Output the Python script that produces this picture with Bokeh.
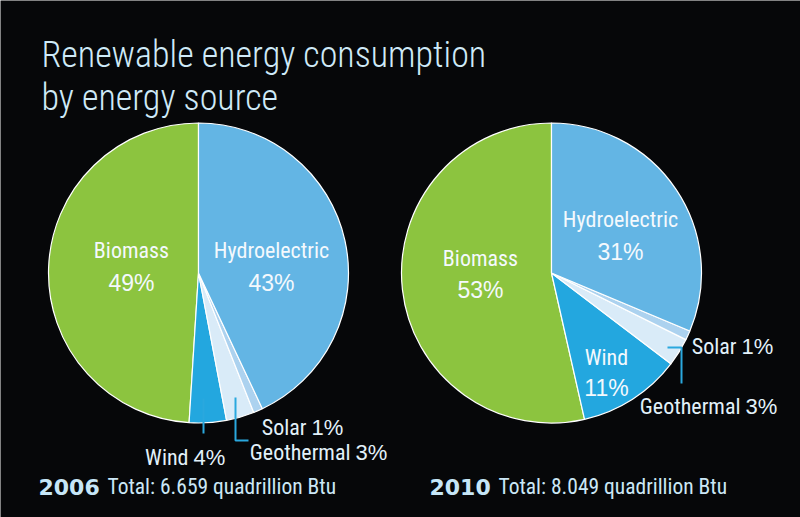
import numpy as np
from bokeh.plotting import figure
from bokeh.models import Range1d, ColumnDataSource
from bokeh.core.properties import value
from bokeh.embed import file_html
from bokeh.resources import INLINE

# ---------------- data ----------------
categories = ["Biomass", "Wind", "Geothermal", "Solar", "Hydroelectric"]
share_2006 = [49, 4, 3, 1, 43]
share_2010 = [53, 11, 3, 1, 31]
years = ["2006", "2010"]
totals = [6.659, 8.049]
title_lines = ["Renewable energy consumption", "by energy source"]

# ---------------- styles ----------------
BG = "#060709"
colors = {"Biomass": "#8cc43f", "Wind": "#23a7df", "Geothermal": "#d9ebf8",
          "Solar": "#acd2ef", "Hydroelectric": "#63b5e4"}
COND = "Roboto Condensed"
TITLE_FONT = "Roboto Condensed Light"
REG = "Liberation Sans"
TXT = "#f4f9fd"
TXT2 = "#e2f1fa"
TITLE_C = "#cfeaf8"
LEADER = "#2aa8de"

W, H = 800, 517
p = figure(width=W, height=H, x_range=Range1d(0, W), y_range=Range1d(0, H),
           output_backend="svg", toolbar_location=None, min_border=0,
           x_axis_location=None, y_axis_location=None)
p.grid.visible = False
p.outline_line_color = None
p.background_fill_color = BG
p.border_fill_color = BG


def Y(ypix):
    return H - ypix


# ---------------- pies ----------------
centers = [(198, 272.5), (551, 272.5)]
R = 150
for shares, (cx, cy) in zip([share_2006, share_2010], centers):
    v = np.array(shares, dtype=float)
    frac = v / v.sum()
    ends = np.cumsum(frac)
    starts = ends - frac
    src = ColumnDataSource(dict(
        cat=categories,
        start=np.pi / 2 + 2 * np.pi * starts,
        end=np.pi / 2 + 2 * np.pi * ends,
        color=[colors[c] for c in categories],
    ))
    p.wedge(x=cx, y=Y(cy), radius=R, start_angle="start", end_angle="end",
            direction="anticlock", fill_color="color", line_color="white",
            line_width=1.2, source=src)

# ---------------- labels ----------------
stacked = [
    (0, "Biomass", 131, 250, 282),
    (0, "Hydroelectric", 271, 250, 282),
    (1, "Biomass", 480, 258, 289),
    (1, "Hydroelectric", 620, 219, 251),
    (1, "Wind", 606, 357, 387),
]
inline = [
    (0, "Wind", 193, 457),
    (0, "Solar", 311, 427),
    (0, "Geothermal", 355, 452),
    (1, "Solar", 741, 346),
    (1, "Geothermal", 745, 406),
]
share_sets = [share_2006, share_2010]

p.text(x=[s[2] for s in stacked], y=[Y(s[3]) for s in stacked],
       text=[s[1] for s in stacked], text_font=value(COND), text_font_size="22px",
       text_color=TXT, text_align="center", text_baseline="alphabetic")
p.text(x=[s[2] for s in stacked], y=[Y(s[4]) for s in stacked],
       text=[f"{share_sets[s[0]][categories.index(s[1])]}%" for s in stacked],
       text_font=value(REG), text_font_size="23px",
       text_color=TXT, text_align="center", text_baseline="alphabetic")

p.text(x=[s[2] - 5 for s in inline], y=[Y(s[3]) for s in inline],
       text=[s[1] for s in inline], text_font=value(COND), text_font_size="22px",
       text_color=TXT2, text_align="right", text_baseline="alphabetic")
p.text(x=[s[2] for s in inline], y=[Y(s[3]) for s in inline],
       text=[f"{share_sets[s[0]][categories.index(s[1])]}%" for s in inline],
       text_font=value(REG), text_font_size="22px",
       text_color=TXT2, text_align="left", text_baseline="alphabetic")

leaders = [
    ([203, 203], [398, 433]),
    ([235, 235, 248], [397, 440, 440]),
    ([667, 681, 681], [347, 347, 383]),
]
p.multi_line(xs=[l[0] for l in leaders], ys=[[Y(y) for y in l[1]] for l in leaders],
             line_color=LEADER, line_width=2)

# ---------------- title ----------------
p.text(x=[41, 41], y=[Y(54), Y(97)], text=title_lines, text_font=value(TITLE_FONT),
       text_font_size="36px", text_color=TITLE_C, text_align="left",
       text_baseline="alphabetic")

# ---------------- footers ----------------
year_x = [38, 429]
p.text(x=year_x, y=[Y(486)] * 2, text=years, text_font=value("DejaVu Sans"),
       text_font_style="bold", text_font_size="22px", text_color="#c6e6f7",
       text_align="left", text_baseline="alphabetic")
p.text(x=[107, 498], y=[Y(486)] * 2,
       text=[f"Total: {t:.3f} quadrillion Btu" for t in totals],
       text_font=value(COND), text_font_size="21.5px", text_color="#cbe7f6",
       text_align="left", text_baseline="alphabetic")

open("out.html", "w").write(file_html(p, INLINE))
